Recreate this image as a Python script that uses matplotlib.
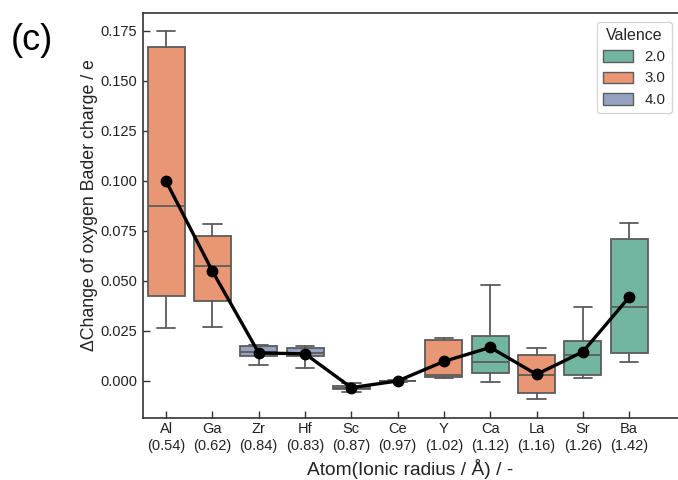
import numpy as np
import matplotlib.pyplot as plt
import seaborn as sns
from matplotlib.patches import Patch

sns.set_style("ticks")
plt.rcParams['font.family'] = ['Liberation Sans', 'DejaVu Sans']

atoms = ["Al", "Ga", "Zr", "Hf", "Sc", "Ce", "Y", "Ca", "La", "Sr", "Ba"]
radius = ["0.54", "0.62", "0.84", "0.83", "0.87", "0.97", "1.02", "1.12", "1.16", "1.26", "1.42"]
valence = [3.0, 3.0, 4.0, 4.0, 3.0, 4.0, 3.0, 2.0, 3.0, 2.0, 2.0]

# box statistics per atom
whislo = [0.0265, 0.0271, 0.0078, 0.0066, -0.0053, -0.0004, 0.0013, -0.0005, -0.0091, 0.0016, 0.0093]
q1 = [0.0426, 0.0398, 0.0125, 0.0125, -0.0040, -0.0002, 0.0018, 0.0040, -0.0058, 0.0028, 0.0140]
med = [0.0875, 0.0574, 0.0143, 0.0140, -0.0033, 0.0000, 0.0032, 0.0096, 0.0028, 0.0131, 0.0371]
q3 = [0.1670, 0.0725, 0.0173, 0.0165, -0.0025, 0.0002, 0.0205, 0.0226, 0.0128, 0.0201, 0.0709]
whishi = [0.1750, 0.0783, 0.0181, 0.0176, -0.0010, 0.0005, 0.0216, 0.0480, 0.0163, 0.0368, 0.0788]
mean = [0.0998, 0.0549, 0.0140, 0.0136, -0.0033, 0.0000, 0.0098, 0.0168, 0.0033, 0.0146, 0.0419]

pal = {2.0: sns.desaturate("#66c2a5", 0.75),
       3.0: sns.desaturate("#fc8d62", 0.75),
       4.0: sns.desaturate("#8da0cb", 0.75)}

fig = plt.figure(figsize=(6.78, 4.8), dpi=100)
ax = fig.add_axes([143 / 678, 62 / 480, 1 - 143 / 678, 405 / 480])

stats = [dict(whislo=a, q1=b, med=c, q3=d, whishi=e, label=n)
         for a, b, c, d, e, n in zip(whislo, q1, med, q3, whishi, atoms)]
edge = "#5c5c5c"
pos = np.arange(len(atoms))
bp = ax.bxp(stats, positions=pos, widths=0.8, patch_artist=True, showfliers=False,
            boxprops=dict(edgecolor=edge, linewidth=1.3),
            medianprops=dict(color=edge, linewidth=1.3),
            whiskerprops=dict(color=edge, linewidth=1.3),
            capprops=dict(color=edge, linewidth=1.3),
            capwidths=0.4)
for box, v in zip(bp["boxes"], valence):
    box.set_facecolor(pal[v])

ax.plot(pos, mean, color="black", marker="o", lw=2.4, ms=7.5, zorder=5)

ax.set_xlim(-0.5, -0.5 + (678 - 143) / 46.3)
ax.set_ylim(-0.0185, 0.184)
ax.set_yticks(np.arange(0, 0.176, 0.025))
ax.yaxis.set_major_formatter(plt.FormatStrFormatter("%.3f"))
ax.set_xticks(pos)
ax.set_xticklabels([f"{a}\n({r})" for a, r in zip(atoms, radius)], linespacing=1.25)
ax.tick_params(labelsize=10.5, length=5, width=1, direction="in",
               color="#333333", labelcolor="#222222")
ax.tick_params(axis="y", pad=4)
ax.tick_params(axis="x", pad=3)
ax.spines["right"].set_visible(False)
for s in ["left", "bottom", "top"]:
    ax.spines[s].set_color("#333333")
    ax.spines[s].set_linewidth(1.2)

ax.set_xlabel("Atom(Ionic radius / Å) / -", fontsize=13.8, color="#222222")
ax.set_ylabel("ΔChange of oxygen Bader charge / e", fontsize=12.8, color="#222222")
ax.xaxis.set_label_coords(0.499, -0.101)
ax.yaxis.set_label_coords(-0.084, 0.527)

handles = [Patch(facecolor=pal[v], edgecolor=edge, label=f"{v:.1f}") for v in (2.0, 3.0, 4.0)]
fig.legend(handles=handles, title="Valence", loc="upper right",
           bbox_to_anchor=(679 / 678, 1 - 14 / 480), fontsize=10.8, title_fontsize=11.5,
           handlelength=2.0, handleheight=0.8, frameon=True)

fig.text(11 / 678, 1 - 50 / 480, "(c)", fontsize=26, color="black")

fig.savefig("out.png", dpi=100)
